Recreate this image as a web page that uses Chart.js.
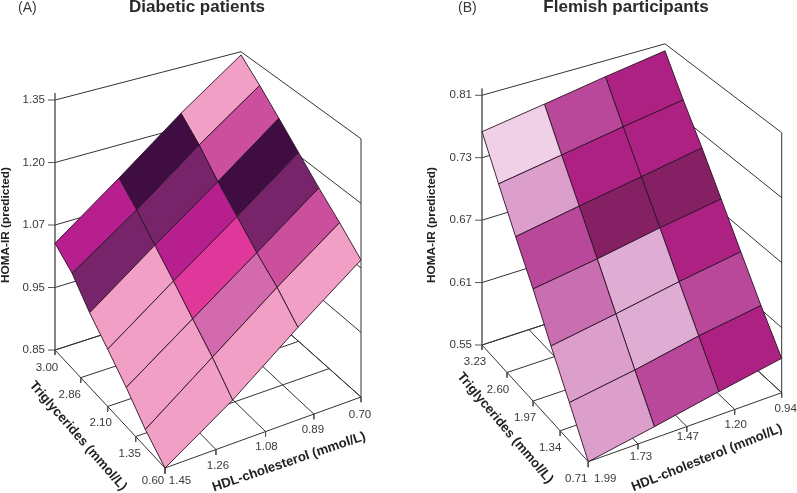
<!DOCTYPE html>
<html>
<head>
<meta charset="utf-8">
<title>HOMA-IR surfaces</title>
<script src="https://cdn.jsdelivr.net/npm/chart.js@4"></script>
<style>
  html, body { margin: 0; padding: 0; background: #fff; }
  canvas { display: block; }
</style>
</head>
<body>
<canvas id="chart" width="797" height="493"></canvas>
<script>
// Panel A data. Rows go from the lowest triglycerides to the highest,
// columns from the highest HDL-cholesterol to the lowest.
const homaTicksA = [0.85, 0.95, 1.07, 1.20, 1.35];
const trigTicksA = ['0.60', '1.35', '2.10', '2.86', '3.00'];
const hdlTicksA = ['1.45', '1.26', '1.08', '0.89', '0.70'];
const surfaceA = [
  [0.850, 0.915, 0.999, 1.086],
  [0.876, 0.950, 1.039, 1.127],
  [0.909, 0.986, 1.071, 1.165],
  [0.938, 1.023, 1.111, 1.207],
  [0.969, 1.058, 1.150, 1.254],
  [1.010, 1.096, 1.195, 1.300],
  [1.035, 1.130, 1.236, 1.342]
];
const shadesA = [
  [0, 0, 0],
  [0, 1, 2],
  [0, 4, 5],
  [0, 3, 6],
  [5, 5, 2],
  [3, 6, 0]
];

// Panel B data, same order
const homaTicksB = [0.55, 0.61, 0.67, 0.73, 0.81];
const trigTicksB = ['0.71', '1.34', '1.97', '2.60', '3.23'];
const hdlTicksB = ['1.99', '1.73', '1.47', '1.20', '0.94'];
const surfaceB = [
  [0.5500, 0.5603, 0.5714, 0.5817],
  [0.5846, 0.5937, 0.6050, 0.6136],
  [0.6182, 0.6280, 0.6386, 0.6477],
  [0.6537, 0.6626, 0.6731, 0.6822],
  [0.6861, 0.6964, 0.7062, 0.7163],
  [0.7202, 0.7298, 0.7428, 0.7546],
  [0.7633, 0.7758, 0.7889, 0.8007]
];
const shadesB = [
  [1, 2, 3],
  [1, 0, 2],
  [4, 0, 3],
  [2, 5, 5],
  [1, 3, 3],
  [6, 2, 3]
];

const paletteA = ['#f29fc5', '#d46aae', '#cc4f9e', '#b71f8f', '#e0389a', '#77246a', '#3f0d42'];
const paletteB = ['#dfadd3', '#dc9fcb', '#b9479a', '#ad2183', '#c96eb0', '#842063', '#f0d0e6'];

const panels = [
  {
    ticks: homaTicksA, trig: trigTicksA, hdl: hdlTicksA, surface: surfaceA, shades: shadesA, palette: paletteA,
    front: [165, 468], left: [55, 350], right: [361, 397], back: [241, 290], height: 272,
    trigOff: [[-12, 13], [-6, 17], [-7, 16], [-11, 17], [-8, 18]],
    hdlOff: [[15, 13], [2, 16], [1, 15], [-1, 16], [-1, 18]],
    letter: ['(A)', 18], title: ['Diabetic patients', 197],
    homaX: 6, trigTitle: [78, 436, 48.8], hdlTitle: [289, 462, -18.8]
  },
  {
    ticks: homaTicksB, trig: trigTicksB, hdl: hdlTicksB, surface: surfaceB, shades: shadesB, palette: paletteB,
    front: [588.3, 461.7], left: [482, 345], right: [781.7, 392.7], back: [665, 285], height: 270,
    trigOff: [[-12, 17], [-10, 17], [-8, 17], [-9, 17], [-7, 17]],
    hdlOff: [[17, 17], [3, 13], [1, 10], [1, 15], [4, 16]],
    letter: ['(B)', 458], title: ['Flemish participants', 626],
    homaX: 432, trigTitle: [505, 428, 49.7], hdlTitle: [707, 458, -21.8]
  }
];

// floor is a perspective view of the unit square, walls are vertical
function makeProjector(p) {
  const dx1 = p.left[0] - p.back[0], dx2 = p.right[0] - p.back[0];
  const dy1 = p.left[1] - p.back[1], dy2 = p.right[1] - p.back[1];
  const sx = p.front[0] - p.left[0] + p.back[0] - p.right[0];
  const sy = p.front[1] - p.left[1] + p.back[1] - p.right[1];
  const det = dx1 * dy2 - dx2 * dy1;
  const g = (sx * dy2 - dx2 * sy) / det;
  const h = (dx1 * sy - sx * dy1) / det;
  return function (u, v, w) {
    const d = 1 + g * u + h * v;
    const x = p.front[0] + (p.left[0] - p.front[0] + g * p.left[0]) * u + (p.right[0] - p.front[0] + h * p.right[0]) * v;
    const y = p.front[1] + (p.left[1] - p.front[1] + g * p.left[1]) * u + (p.right[1] - p.front[1] + h * p.right[1]) * v;
    return { x: x / d, y: (y - w * p.height) / d };
  };
}

// the value axis is evenly spaced by tick, not by value
function levelOf(value, ticks) {
  let k = 0;
  while (k < ticks.length - 2 && value > ticks[k + 1]) k++;
  return (k + (value - ticks[k]) / (ticks[k + 1] - ticks[k])) / (ticks.length - 1);
}

function lineSet(points, color, width) {
  return { data: points, showLine: true, borderColor: color, borderWidth: width, pointRadius: 0, fill: false, clip: false };
}

const surfaceSets = [];
const frameSets = [];
const WALL = '#333333';

panels.forEach(p => {
  const pr = makeProjector(p);
  p.project = pr;

  const rows = p.surface.length - 1;
  const cols = p.surface[0].length - 1;
  const node = (i, j) => pr(i / rows, j / cols, levelOf(p.surface[i][j], p.ticks));
  for (let i = 0; i < rows; i++) {
    for (let j = 0; j < cols; j++) {
      const a = node(i, j);
      surfaceSets.push({
        data: [a, node(i + 1, j), node(i + 1, j + 1), node(i, j + 1), a],
        showLine: true,
        borderColor: '#2b1226',
        borderWidth: 0.9,
        backgroundColor: p.palette[p.shades[i][j]],
        pointRadius: 0,
        fill: 'shape',
        clip: false
      });
    }
  }

  // walls
  p.ticks.forEach((t, k) => {
    const w = k / (p.ticks.length - 1);
    frameSets.push(lineSet([pr(1, 0, w), pr(1, 1, w), pr(0, 1, w)], WALL, 1));
    const start = pr(1, 0, w);
    frameSets.push(lineSet([{ x: start.x - 7, y: start.y }, start], '#555555', 1));
  });
  // floor
  p.trig.forEach((t, k) => {
    const u = k / (p.trig.length - 1);
    frameSets.push(lineSet([pr(u, 0, 0), pr(u, 1, 0)], WALL, 1));
    frameSets.push(lineSet([pr(u, 0, 0), pr(u, 0, -0.02)], '#555555', 1));
  });
  p.hdl.forEach((t, k) => {
    const v = k / (p.hdl.length - 1);
    frameSets.push(lineSet([pr(0, v, 0), pr(1, v, 0)], WALL, 1));
    frameSets.push(lineSet([pr(0, v, 0), pr(0, v, -0.02)], '#555555', 1));
  });
  // uprights
  const axisTop = pr(1, 0, 1);
  frameSets.push(lineSet([pr(1, 0, 0), { x: axisTop.x, y: axisTop.y - 7 }], '#666666', 1.6));
  frameSets.push(lineSet([pr(0, 1, 0), pr(0, 1, 1)], WALL, 1));
});

const textPlugin = {
  id: 'panelText',
  afterDatasetsDraw(chart) {
    const ctx = chart.ctx;
    const sx = chart.scales.x, sy = chart.scales.y;
    const put = (text, x, y, font, color, align, angle) => {
      ctx.save();
      ctx.translate(sx.getPixelForValue(x), sy.getPixelForValue(y));
      ctx.rotate((angle || 0) * Math.PI / 180);
      ctx.font = font;
      ctx.fillStyle = color;
      ctx.textAlign = align || 'center';
      ctx.textBaseline = 'middle';
      ctx.fillText(text, 0, 0);
      ctx.restore();
    };
    const tickFont = '11.5px "Liberation Sans", Arial, sans-serif';
    const homaFont = 'bold 11.8px "Liberation Sans", Arial, sans-serif';
    const floorFont = 'bold 13.2px "Liberation Sans", Arial, sans-serif';
    const tickColor = '#3a3a3a';

    panels.forEach(p => {
      const pr = p.project;
      p.ticks.forEach((t, k) => {
        const a = pr(1, 0, k / (p.ticks.length - 1));
        put(t.toFixed(2), a.x - 10, a.y, tickFont, tickColor, 'right');
      });
      p.trig.forEach((t, k) => {
        const a = pr(k / (p.trig.length - 1), 0, 0);
        put(t, a.x + p.trigOff[k][0], a.y + p.trigOff[k][1], tickFont, tickColor);
      });
      p.hdl.forEach((t, k) => {
        const a = pr(0, k / (p.hdl.length - 1), 0);
        put(t, a.x + p.hdlOff[k][0], a.y + p.hdlOff[k][1], tickFont, tickColor);
      });
      put(p.letter[0], p.letter[1], 8, '14px "Liberation Sans", Arial, sans-serif', tickColor, 'left');
      put(p.title[0], p.title[1], 7, 'bold 17px "Liberation Sans", Arial, sans-serif', '#2a2a2a');
      put('HOMA-IR (predicted)', p.homaX, 225, homaFont, '#222222', 'center', -90);
      put('Triglycerides (mmol/L)', p.trigTitle[0], p.trigTitle[1], floorFont, '#222222', 'center', p.trigTitle[2]);
      put('HDL-cholesterol (mmol/L)', p.hdlTitle[0], p.hdlTitle[1], floorFont, '#222222', 'center', p.hdlTitle[2]);
    });
  }
};

new Chart(document.getElementById('chart'), {
  type: 'scatter',
  data: { datasets: surfaceSets.concat(frameSets) }, // first dataset is painted last
  options: {
    responsive: false,
    animation: false,
    layout: { padding: 0 },
    elements: { line: { tension: 0 } },
    scales: {
      x: { type: 'linear', min: 0, max: 797, display: false },
      y: { type: 'linear', min: 0, max: 493, reverse: true, display: false }
    },
    plugins: { legend: { display: false }, tooltip: { enabled: false }, title: { display: false } }
  },
  plugins: [textPlugin]
});
</script>
</body>
</html>
